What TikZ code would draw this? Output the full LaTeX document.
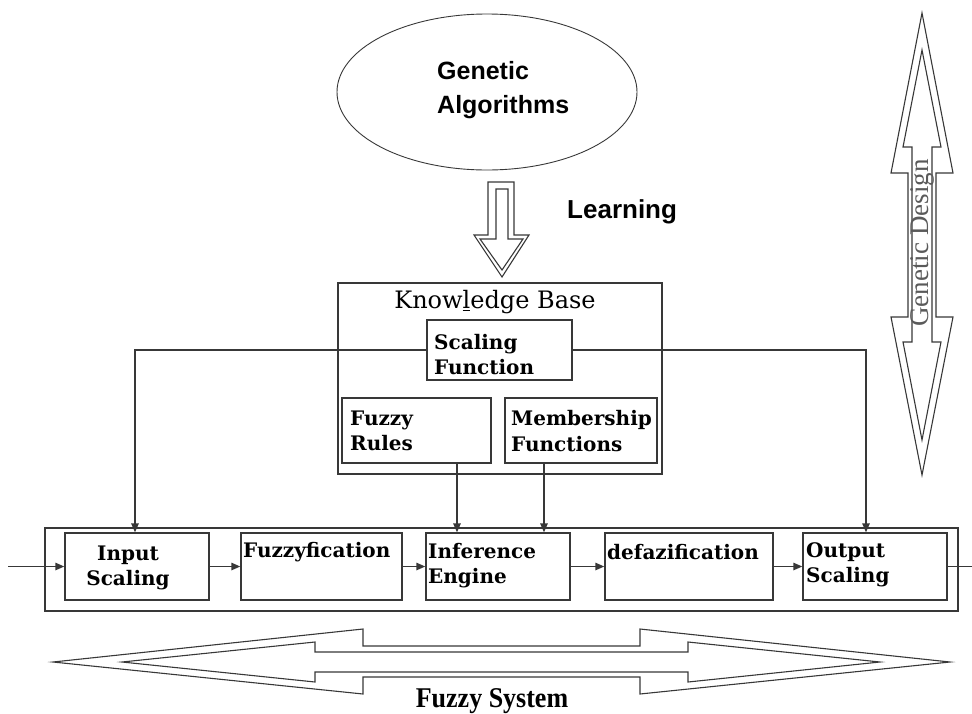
\documentclass[tikz,border=0pt]{standalone}
\usepackage{fontspec}
\usetikzlibrary{arrows.meta,shapes.geometric}
\newfontfamily\labelfont{DejaVu Serif}
\newfontfamily\headfont{Liberation Sans}
\newfontfamily\capfont{Liberation Serif}
\definecolor{ink}{HTML}{383838}
\definecolor{soft}{HTML}{5A5A5A}

\begin{document}
\begin{tikzpicture}[x=1pt,y=-1pt,
  box/.style n args={2}{draw=ink, line width=1.4pt, minimum width=#1, minimum height=#2, inner sep=0pt},
  lbl/.style={inner sep=0pt, align=left, text=black, font=\labelfont\bfseries\fontsize{20}{25.5}\selectfont},
  sans/.style={inner sep=0pt, align=left, text=black, font=\headfont\bfseries\fontsize{25}{34}\selectfont},
  wire/.style={draw=ink, line width=1.4pt},
  flow/.style={wire, -{Triangle[length=9pt,width=7.5pt]}},
  hollow/.style={draw=ink, line width=1.1pt, line join=miter},
]
\useasboundingbox (0,0) rectangle (972,713);

% ---- genetic algorithms and the learning arrow ----
\node[ellipse, draw=ink, line width=0.9pt, minimum width=300pt, minimum height=156pt] (ga) at (487,92) {};
\node[sans, anchor=west] (gatext) at (437,90) {Genetic\\Algorithms};

\draw[hollow] (488,182) -- (514,182) -- (514,235) -- (529,235) -- (502,277) -- (474,235) -- (488,235) -- cycle;
\draw[hollow] (496,189) -- (508,189) -- (508,239) -- (523,239) -- (502,270) -- (480,239) -- (496,239) -- cycle;
\node[sans, anchor=west, font=\headfont\bfseries\fontsize{26}{30}\selectfont] (learn) at (567,212) {Learning};

% ---- knowledge base ----
\node[box={324pt}{191pt}] (kb) at (500,378.5) {};
\node[inner sep=0pt, font=\labelfont\fontsize{24}{28}\selectfont] (kbt) at (495,302) {Know\underline{l}edge Base};
\node[box={145pt}{60pt}] (sf) at (499.5,350) {};
\node[box={149pt}{65pt}] (fr) at (416.5,430.5) {};
\node[box={152pt}{65pt}] (mf) at (581,430.5) {};
\node[lbl, anchor=west] (sft) at (434,354.5) {Scaling\\Function};
\node[lbl, anchor=west] (frt) at (350,431) {Fuzzy\\Rules};
\node[lbl, anchor=west] (mft) at (511,431) {Membership\\Functions};

% ---- fuzzy system chain ----
\node[box={913pt}{83pt}] (fs) at (501.5,569.5) {};
\node[box={144pt}{67pt}] (is) at (137,566.5) {};
\node[box={161pt}{67pt}] (fz) at (321.5,566.5) {};
\node[box={144pt}{67pt}] (ie) at (498,566.5) {};
\node[box={168pt}{67pt}] (df) at (689,566.5) {};
\node[box={144pt}{67pt}] (os) at (875,566.5) {};
\node[lbl, align=center] (ist) at (128,568) {Input\\Scaling};
\node[lbl, anchor=west] (fzt) at (243,552) {Fuzzyfication};
\node[lbl, anchor=west] (iet) at (428,565.5) {Inference\\Engine};
\node[lbl, anchor=west] (dft) at (607,552) {defazification};
\node[lbl, anchor=west] (ost) at (806,565) {Output\\Scaling};

\coordinate (in) at (8,566.5);
\coordinate (out) at (972,566.5);
\draw[flow] (in) -- (is.west);
\draw[flow] (is.east) -- (fz.west);
\draw[flow] (fz.east) -- (ie.west);
\draw[flow] (ie.east) -- (df.west);
\draw[flow] (df.east) -- (os.west);
\draw[wire] (os.east) -- (out);

% ---- scaling function feeds both scaling blocks ----
\draw[flow] (sf.west) -| ([xshift=-2pt]is.north);
\draw[flow] (sf.east) -| ([xshift=-9pt]os.north);
\draw[flow] ([xshift=40.5pt]fr.south) -- ([xshift=40.5pt]fr.south |- ie.north);
\draw[flow] ([xshift=-37pt]mf.south) -- ([xshift=-37pt]mf.south |- ie.north);

% ---- fuzzy system double arrow ----
\draw[hollow] (53,662) -- (363,629) -- (363,646) -- (640,646) -- (640,629) -- (950,662)
  -- (640,694) -- (640,677) -- (363,677) -- (363,694) -- cycle;
\draw[hollow] (122,662) -- (315,642) -- (315,652) -- (688,652) -- (688,642) -- (880,662)
  -- (688,682) -- (688,672) -- (315,672) -- (315,682) -- cycle;
\node[inner sep=0pt, font=\capfont\bfseries\fontsize{26}{28}\selectfont] (fst) at (492,701) {\scalebox{1}[1.1]{Fuzzy System}};

% ---- genetic design double arrow ----
\draw[hollow] (922,13) -- (953,173) -- (936,173) -- (936,317) -- (953,317) -- (922,475)
  -- (891,317) -- (908,317) -- (908,173) -- (891,173) -- cycle;
\draw[hollow] (922,50) -- (941,147) -- (932,147) -- (932,342) -- (941,342) -- (922,440)
  -- (903,342) -- (912,342) -- (912,147) -- (903,147) -- cycle;
\node[inner sep=0pt, rotate=90, text=soft, font=\capfont\fontsize{27}{29}\selectfont] (gdt) at (922,243) {Genetic Design};
\end{tikzpicture}
\end{document}
